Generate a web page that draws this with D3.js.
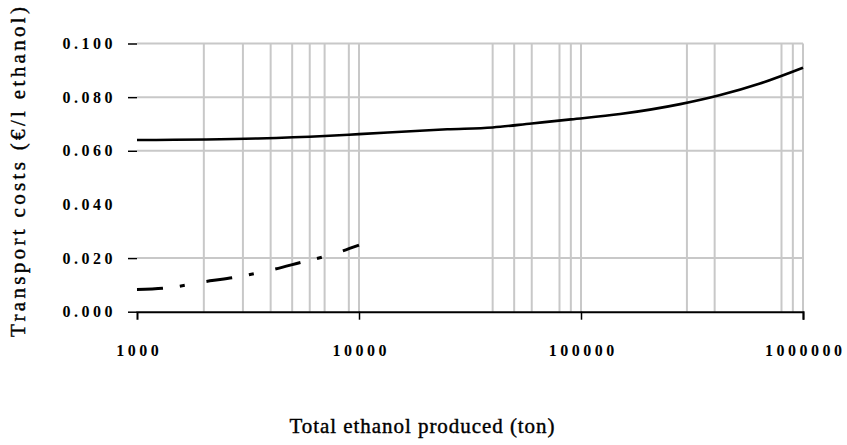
<!DOCTYPE html>
<html>
  <head>
    <script src="https://d3js.org/d3.v7.min.js"></script>
    <style>
      body { margin: 0; background: #fff; }
      .axis text {
        font-family: "Liberation Serif", serif;
        font-weight: bold;
        font-size: 16px;
        letter-spacing: 3.5px;
        fill: #000;
      }
      .axis .tick line { stroke: #000; stroke-width: 1.5px; }
      .grid line { stroke: #c8c8c8; stroke-width: 2px; }
      .title {
        font-family: "Liberation Serif", serif;
        font-size: 21px;
        fill: #000;
        stroke: #000;
        stroke-width: 0.4px;
      }
    </style>
  </head>
  <body>
    <svg width="847" height="445"></svg>
    <script>
      // tick labels and grid positions
      const xTicks = [1000, 10000, 100000, 1000000];
      const yTicks = [0, 0.02, 0.04, 0.06, 0.08, 0.1];
      const yGrid = [0.02, 0.06, 0.08, 0.1];
      const xGrid = [2000, 3000, 4000, 5000, 6000, 7000, 9000, 10000,
                     40000, 50000, 60000, 80000, 90000, 100000,
                     300000, 400000, 800000, 900000, 1000000];

      // solid series
      const solidX = [1000, 3500, 7000, 10000, 25000, 40000, 60000, 90000,
                      150000, 280000, 420000, 640000, 1000000];
      const solidY = [0.0640, 0.0646, 0.0655, 0.0662, 0.0680, 0.0687, 0.0702, 0.0717,
                      0.0737, 0.0774, 0.0807, 0.0851, 0.0910];

      // dashed series
      const dashX = [1000, 1340, 2130, 2760, 3620, 4190, 5600, 7100, 10000];
      const dashY = [0.0083, 0.0088, 0.0115, 0.0128, 0.0147, 0.0159, 0.0186, 0.0207, 0.0248];

      const svg = d3.select("svg");
      const plotLeft = 137, plotRight = 803, plotTop = 43.5, plotBottom = 311.7;

      const xScale = d3.scaleLog().domain([1000, 1000000]).range([plotLeft, plotRight]);
      const yScale = d3.scaleLinear().domain([0, 0.1]).range([plotBottom, plotTop]);

      // grid
      const grid = svg.append("g").attr("class", "grid");
      grid.selectAll(".vg").data(xGrid).enter().append("line")
          .attr("class", "vg")
          .attr("x1", d => xScale(d)).attr("x2", d => xScale(d))
          .attr("y1", plotTop).attr("y2", plotBottom);
      grid.selectAll(".hg").data(yGrid).enter().append("line")
          .attr("class", "hg")
          .attr("x1", plotLeft).attr("x2", plotRight)
          .attr("y1", d => yScale(d)).attr("y2", d => yScale(d));

      // axes
      const yAxis = d3.axisLeft(yScale)
        .tickValues(yTicks)
        .tickFormat(d3.format(".3f"))
        .tickSize(9)
        .tickPadding(12);
      const yAxisG = svg.append("g")
          .attr("class", "axis")
          .attr("transform", `translate(${plotLeft},0)`)
          .call(yAxis);
      yAxisG.select(".domain").remove();
      yAxisG.selectAll(".tick").filter(d => d === 0.04).select("line").remove();

      const xAxis = d3.axisBottom(xScale)
        .tickValues(xTicks)
        .tickFormat(d3.format("d"))
        .tickSize(8)
        .tickPadding(25);
      const xAxisG = svg.append("g")
          .attr("class", "axis")
          .attr("transform", `translate(0,${plotBottom})`)
          .call(xAxis);
      xAxisG.select(".domain").attr("stroke", "#000").attr("stroke-width", 2);
      xAxisG.selectAll(".tick").filter(d => d === 1000).select("line").remove();
      xAxisG.selectAll(".tick text").attr("dx", "1.75px");

      // lines
      const line = d3.line()
        .x(d => xScale(d[0]))
        .y(d => yScale(d[1]))
        .curve(d3.curveMonotoneX);

      svg.append("path")
          .datum(solidX.map((x, i) => [x, solidY[i]]))
          .attr("fill", "none")
          .attr("stroke", "#000")
          .attr("stroke-width", 2.6)
          .attr("d", line);

      svg.append("path")
          .datum(dashX.map((x, i) => [x, dashY[i]]))
          .attr("fill", "none")
          .attr("stroke", "#000")
          .attr("stroke-width", 3)
          .attr("stroke-dasharray", "26,17,5,22")
          .attr("d", line);

      // titles
      svg.append("text")
          .attr("class", "title")
          .attr("transform", "translate(25,172) rotate(-90)")
          .attr("text-anchor", "middle")
          .attr("textLength", 330)
          .text("Transport costs (€/l ethanol)");

      svg.append("text")
          .attr("class", "title")
          .attr("x", 422)
          .attr("y", 433)
          .attr("text-anchor", "middle")
          .attr("textLength", 265)
          .text("Total ethanol produced (ton)");
    </script>
  </body>
</html>
